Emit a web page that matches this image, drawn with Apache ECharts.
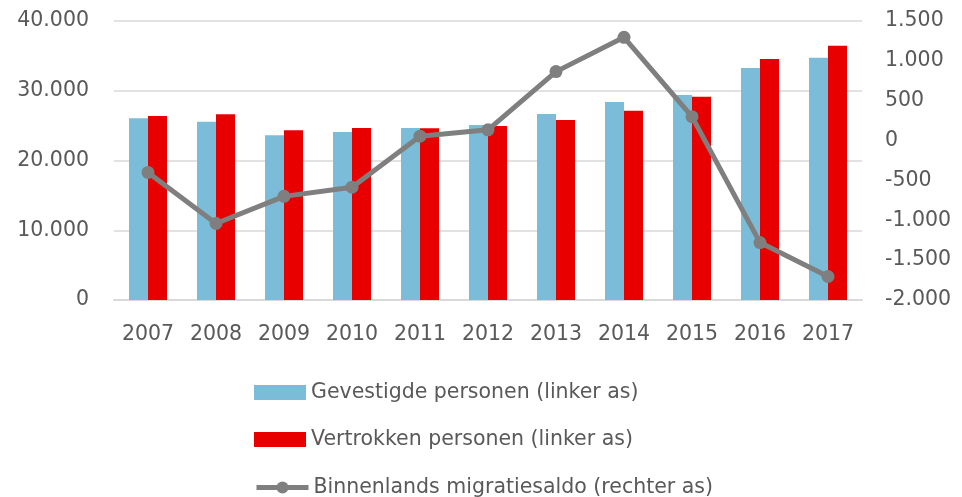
<!DOCTYPE html>
<html>
<head>
<meta charset="utf-8">
<script src="https://cdn.jsdelivr.net/npm/echarts@6/dist/echarts.min.js"></script>
<style>
html,body{margin:0;padding:0;background:#fff;}
#main{width:962px;height:497px;}
</style>
</head>
<body>
<div id="main"></div>
<script>
var years = ['2007','2008','2009','2010','2011','2012','2013','2014','2015','2016','2017'];
var gevestigd = [26050, 25570, 23610, 24090, 24660, 25090, 26670, 28390, 29390, 33260, 34740];
var vertrokken = [26380, 26620, 24330, 24660, 24610, 24950, 25810, 27140, 29150, 34550, 36460];
var saldo = [-400, -1040, -700, -585, 55, 135, 865, 1295, 300, -1280, -1705];
var names = ['Gevestigde personen (linker as)', 'Vertrokken personen (linker as)', 'Binnenlands migratiesaldo (rechter as)'];

function fmt(v){
  var s = Math.abs(v).toString().replace(/\B(?=(\d{3})+(?!\d))/g, '.');
  return (v < 0 ? '-' : '') + s;
}
var font = 'DejaVu Sans';
var txt = '#595959';
var fs = 20.5;
function leg(i, top, icon){
  var l = {
    orient: 'vertical', left: 254, top: top, padding: 0,
    itemWidth: 52, itemHeight: 15, itemGap: 0,
    textStyle: {fontFamily: font, fontSize: fs, color: txt},
    lineStyle: {width: 5},
    data: [names[i]]
  };
  if (icon) l.icon = icon;
  return l;
}
var chart = echarts.init(document.getElementById('main'));
chart.setOption({
  animation: false,
  textStyle: {fontFamily: font},
  grid: {left: 114, right: 100, top: 21, bottom: 197},
  legend: [leg(0, 382, 'rect'), leg(1, 429, 'rect'), leg(2, 477)],
  xAxis: {
    type: 'category', data: years,
    axisLine: {lineStyle: {color: '#d9d9d9', width: 2}},
    axisTick: {show: false},
    axisLabel: {fontFamily: font, fontSize: fs, color: txt, margin: 24}
  },
  yAxis: [
    {type: 'value', min: 0, max: 40000, interval: 10000,
     axisLabel: {fontFamily: font, fontSize: fs, color: txt, margin: 25, formatter: fmt},
     axisLine: {show: false}, axisTick: {show: false},
     splitLine: {lineStyle: {color: '#d9d9d9', width: 1.5}}},
    {type: 'value', min: -2000, max: 1500, interval: 500,
     axisLabel: {fontFamily: font, fontSize: fs, color: txt, margin: 23, formatter: fmt},
     axisLine: {show: false}, axisTick: {show: false},
     splitLine: {show: false}}
  ],
  series: [
    {name: names[0], type: 'bar', data: gevestigd, barWidth: 19, barGap: '0%',
     itemStyle: {color: '#7BBDD8'}},
    {name: names[1], type: 'bar', data: vertrokken, barWidth: 19, barGap: '0%',
     itemStyle: {color: '#E80000'}},
    {name: names[2], type: 'line', yAxisIndex: 1, data: saldo,
     symbol: 'circle', symbolSize: 13,
     lineStyle: {color: '#7F7F7F', width: 5},
     itemStyle: {color: '#7F7F7F'}}
  ]
});
</script>
</body>
</html>
